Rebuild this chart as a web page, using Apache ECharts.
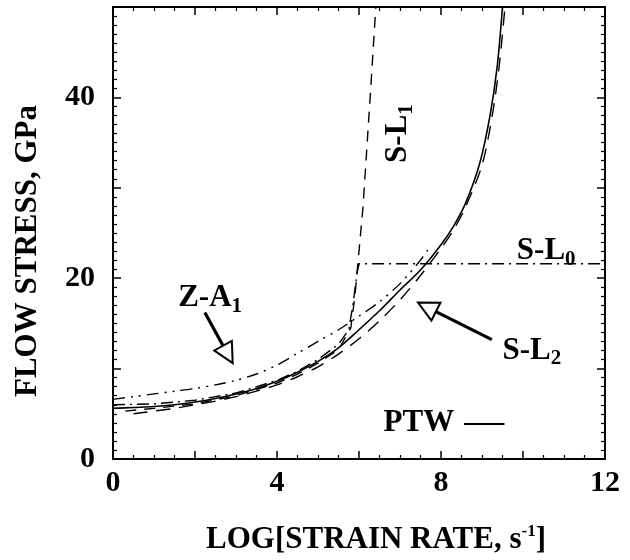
<!DOCTYPE html>
<html><head><meta charset="utf-8">
<script src="https://cdn.jsdelivr.net/npm/echarts@6/dist/echarts.min.js"></script>
<style>html,body{margin:0;padding:0;background:#fff}#c{width:630px;height:560px}</style>
</head><body><div id="c"></div>
<script>
// ---- data ----
const X_TICK_LABELS = [0, 4, 8, 12];
const Y_TICK_LABELS = [0, 20, 40];

const PTW_X = [0, 0.5, 1, 1.5, 2, 2.5, 3, 3.5, 4, 4.5, 5, 5.5, 6, 6.5, 7, 7.5, 8, 8.3, 8.6, 8.95, 9.2, 9.37, 9.5];
const PTW_Y = [5.6, 5.7, 5.8, 6.0, 6.3, 6.7, 7.2, 7.8, 8.6, 9.6, 10.8, 12.3, 14.3, 16.4, 18.7, 20.9, 23.7, 25.7, 28.3, 32.8, 38.1, 43.4, 50];

const ZA1_X = [0, 0.5, 1, 1.5, 2, 2.5, 3, 3.5, 4, 4.5, 5, 5.5, 6, 6.5, 7, 7.5, 7.7];
const ZA1_Y = [6.6, 6.9, 7.2, 7.5, 7.8, 8.2, 8.7, 9.4, 10.4, 11.7, 13.0, 14.3, 15.8, 17.4, 19.4, 22.0, 23.3];

const SL2_X = [0.5, 1, 1.5, 2, 2.5, 3, 3.5, 4, 4.5, 5, 5.5, 6, 6.5, 7, 7.5, 8, 8.3, 8.6, 9, 9.25, 9.42, 9.56];
const SL2_Y = [5.0, 5.3, 5.6, 6.0, 6.4, 6.9, 7.5, 8.2, 9.1, 10.2, 11.6, 13.3, 15.3, 17.6, 20.3, 23.3, 25.3, 27.9, 32.5, 38.0, 43.5, 50];

const SL1_X = [0.3, 1, 2, 3, 4, 4.5, 5, 5.5, 5.8, 5.9, 6.0, 6.1, 6.2, 6.3, 6.41];
const SL1_Y = [5.3, 5.6, 6.1, 7.0, 8.4, 9.4, 10.6, 12.1, 14.5, 18, 23, 28, 35, 42, 50];

const SL0_X = [0, 1, 2, 3, 4, 4.5, 5, 5.5, 5.75, 5.85, 5.95, 6.0, 8, 10, 12];
const SL0_Y = [6.0, 6.1, 6.5, 7.3, 8.7, 9.7, 11.0, 12.7, 14.3, 17.0, 20.5, 21.6, 21.6, 21.6, 21.6];

const LABELS = {
  za1: ['Z-A', '1'],
  sl0: ['S-L', '0'],
  sl1: ['S-L', '1'],
  sl2: ['S-L', '2'],
  ptw: ['PTW', '\u2014']
};
const X_TITLE = ['LOG[STRAIN RATE, s', '-1', ']'];
const Y_TITLE = 'FLOW STRESS, GPa';

// ---- layout / style ----
const FONT = 'Liberation Serif';
const chart = echarts.init(document.getElementById('c'), null, {renderer: 'canvas'});
function zip(xs, ys) { return xs.map((x, i) => [x, ys[i]]); }

function axisCommon(extra) {
  return Object.assign({
    type: 'value',
    axisLine: {show: true, onZero: false, lineStyle: {color: '#000', width: 2}},
    axisTick: {show: true, inside: true, length: 8, lineStyle: {color: '#000', width: 1.5}},
    minorTick: {show: true, length: 4, lineStyle: {color: '#000', width: 1.2}},
    splitLine: {show: false},
    minorSplitLine: {show: false}
  }, extra);
}
const labelStyle = {fontFamily: FONT, fontWeight: 'bold', fontSize: 30, color: '#000'};

function lineSeries(xs, ys, type, width, smooth) {
  return {
    type: 'line', data: zip(xs, ys), showSymbol: false, symbol: 'none',
    smooth: smooth, xAxisIndex: 0, yAxisIndex: 0,
    lineStyle: {color: '#000', width: width, type: type},
    silent: true
  };
}

const option = {
  animation: false,
  backgroundColor: '#fff',
  grid: {left: 113, right: 25, top: 7, bottom: 101, outerBoundsMode: 'none'},
  xAxis: [
    axisCommon({
      min: 0, max: 12, interval: 2, position: 'bottom',
      minorTick: {show: true, splitNumber: 4, length: 4, lineStyle: {color: '#000', width: 1.2}},
      axisLabel: Object.assign({margin: 9, formatter: v => X_TICK_LABELS.includes(v) ? String(v) : ''}, labelStyle),
      name: '{t|' + X_TITLE[0] + '}{u|' + X_TITLE[1] + '}{t|' + X_TITLE[2] + '}',
      nameLocation: 'middle', nameGap: 64,
      nameTextStyle: {
        rich: {
          t: {fontFamily: FONT, fontWeight: 'bold', fontSize: 31, color: '#000', lineHeight: 34},
          u: {fontFamily: FONT, fontWeight: 'bold', fontSize: 17, color: '#000', verticalAlign: 'top', lineHeight: 34}
        },
        padding: [0, 0, 0, 34]
      }
    }),
    axisCommon({
      min: 0, max: 12, interval: 2, position: 'top',
      minorTick: {show: true, splitNumber: 4, length: 4, lineStyle: {color: '#000', width: 1.2}},
      axisLabel: {show: false}
    })
  ],
  yAxis: [
    axisCommon({
      min: 0, max: 50, interval: 10, position: 'left',
      minorTick: {show: true, splitNumber: 10, length: 4, lineStyle: {color: '#000', width: 1.2}},
      axisLabel: Object.assign({margin: 18, formatter: v => Y_TICK_LABELS.includes(v) ? String(v) : ''}, labelStyle),
      name: Y_TITLE, nameLocation: 'middle', nameGap: 70, nameRotate: 90,
      nameTextStyle: {fontFamily: FONT, fontWeight: 'bold', fontSize: 31, color: '#000', padding: [0, 36, 0, 0]}
    }),
    axisCommon({
      min: 0, max: 50, interval: 10, position: 'right',
      minorTick: {show: true, splitNumber: 10, length: 4, lineStyle: {color: '#000', width: 1.2}},
      axisLabel: {show: false}
    })
  ],
  series: [
    lineSeries(PTW_X, PTW_Y, 'solid', 1.6, 0.3),
    lineSeries(ZA1_X, ZA1_Y, [12, 6, 2, 6, 2, 6], 1.4, 0.3),
    lineSeries(SL2_X, SL2_Y, [14, 9], 1.4, 0.3),
    lineSeries(SL1_X, SL1_Y, [11, 8], 1.4, false),
    lineSeries(SL0_X, SL0_Y, [12, 5, 2, 5], 1.4, false)
  ]
};
chart.setOption(option);

// ---- annotations placed in data coordinates ----
const px = d => chart.convertToPixel({gridIndex: 0}, d);
function arrow(tailD, tipD, headLen, headHalf) {
  const t = px(tailD), p = px(tipD);
  const dx = p[0] - t[0], dy = p[1] - t[1];
  const L = Math.hypot(dx, dy), ux = dx / L, uy = dy / L, nx = -uy, ny = ux;
  const bx = p[0] - ux * headLen, by = p[1] - uy * headLen;
  return [
    {type: 'line', shape: {x1: t[0], y1: t[1], x2: bx, y2: by}, style: {stroke: '#000', lineWidth: 3.2}},
    {type: 'polygon', shape: {points: [[p[0], p[1]], [bx + nx * headHalf, by + ny * headHalf], [bx - nx * headHalf, by - ny * headHalf]]},
     style: {fill: '#fff', stroke: '#000', lineWidth: 2}}
  ];
}
const rich = {
  m: {fontFamily: FONT, fontWeight: 'bold', fontSize: 31, fill: '#000', lineHeight: 38},
  s: {fontFamily: FONT, fontWeight: 'bold', fontSize: 21, fill: '#000', lineHeight: 21, verticalAlign: 'bottom'},
  d: {fontFamily: FONT, fontWeight: 'normal', fontSize: 40, fill: '#000', lineHeight: 38, padding: [0, 0, 0, 10]}
};
function subText(anchorD, parts, rotation) {
  const a = px(anchorD);
  return {
    type: 'text', x: a[0], y: a[1], rotation: rotation || 0,
    style: {text: '{m|' + parts[0] + '}{s|' + parts[1] + '}', rich: rich,
            align: rotation ? 'center' : 'left', verticalAlign: 'middle'}
  };
}
const ptwA = px([6.6, 4.0]);
const graphic = [].concat(
  arrow([2.24, 16.2], [2.92, 10.6], 20, 10),
  arrow([9.24, 13.2], [7.44, 17.3], 20, 10),
  [
    subText([1.59, 17.8], LABELS.za1),
    subText([9.85, 23.0], LABELS.sl0),
    subText([9.5, 12.0], LABELS.sl2),
    subText([6.95, 36], LABELS.sl1, Math.PI / 2),
    {type: 'text', x: ptwA[0], y: ptwA[1],
     style: {text: '{m|' + LABELS.ptw[0] + '}{d|' + LABELS.ptw[1] + '}', rich: rich, align: 'left', verticalAlign: 'middle'}}
  ]
);
chart.setOption({graphic: graphic});
</script>
</body></html>
